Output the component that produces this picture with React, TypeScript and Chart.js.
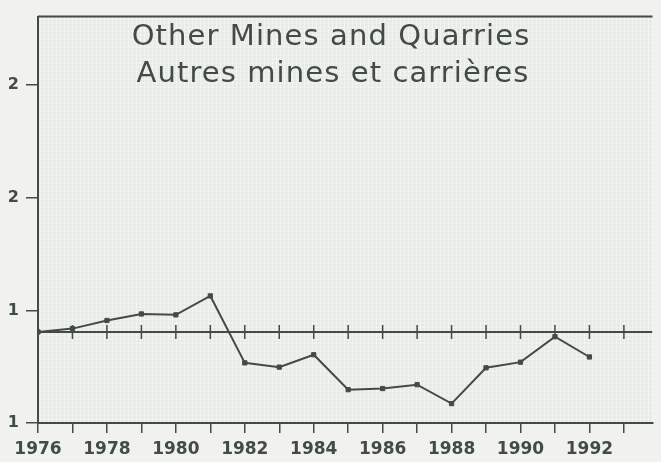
import React, { useEffect, useRef } from "react";
import { Chart, registerables } from "chart.js";

Chart.register(...registerables);

// ---- data ----
const YEARS = [1976, 1977, 1978, 1979, 1980, 1981, 1982, 1983, 1984, 1985, 1986, 1987, 1988, 1989, 1990, 1991, 1992];
const VALUES = [1.404, 1.419, 1.455, 1.484, 1.48, 1.564, 1.267, 1.248, 1.303, 1.148, 1.153, 1.17, 1.086, 1.245, 1.27, 1.383, 1.293];
const REF_LEVEL = 1.404;
const REF_TICK_YEARS = [1976, 1977, 1978, 1979, 1980, 1981, 1982, 1983, 1984, 1985, 1986, 1987, 1988, 1989, 1990, 1991, 1992, 1993];
const X_TICK_YEARS = [1976, 1977, 1978, 1979, 1980, 1981, 1982, 1983, 1984, 1985, 1986, 1987, 1988, 1989, 1990, 1991, 1992, 1993];
const X_LABEL_YEARS = [1976, 1978, 1980, 1982, 1984, 1986, 1988, 1990, 1992];
const Y_TICK_VALUES = [1.0, 1.5, 2.0, 2.5];
const Y_TICK_LABELS = ["1", "1", "2", "2"];
const X_MIN = 1976;
const X_MAX = 1993.83;
const Y_MIN = 1.0;
const Y_MAX = 2.804;
const TITLE_LINES = ["Other Mines and Quarries", "Autres mines et carrières"];

const INK = "#414c44";
const PAGE_BG = "#f1f2ef";
const PLOT_BG = "#e7eae6";

const framePlugin = {
  id: "frame",
  beforeDraw(chart: any) {
    const { ctx, chartArea } = chart;
    ctx.save();
    ctx.fillStyle = PAGE_BG;
    ctx.fillRect(0, 0, chart.width, chart.height);
    ctx.fillStyle = PLOT_BG;
    ctx.fillRect(chartArea.left, chartArea.top, chartArea.right - chartArea.left, chartArea.bottom - chartArea.top);
    // faint mesh texture
    ctx.strokeStyle = "rgba(255,255,255,0.45)";
    ctx.lineWidth = 1;
    for (let x = chartArea.left + 2; x < chartArea.right; x += 4) {
      ctx.beginPath();
      ctx.moveTo(x + 0.5, chartArea.top);
      ctx.lineTo(x + 0.5, chartArea.bottom);
      ctx.stroke();
    }
    for (let y = chartArea.top + 2; y < chartArea.bottom; y += 4) {
      ctx.beginPath();
      ctx.moveTo(chartArea.left, y + 0.5);
      ctx.lineTo(chartArea.right, y + 0.5);
      ctx.stroke();
    }
    // top frame line
    ctx.strokeStyle = INK;
    ctx.lineWidth = 2;
    ctx.beginPath();
    ctx.moveTo(chartArea.left, chartArea.top);
    ctx.lineTo(chartArea.right, chartArea.top);
    ctx.stroke();
    ctx.restore();
  },
  afterDraw(chart: any) {
    const { ctx } = chart;
    ctx.save();
    ctx.fillStyle = INK;
    ctx.font = "29px 'DejaVu Sans', sans-serif";
    ctx.textAlign = "center";
    ctx.textBaseline = "alphabetic";
    try {
      (ctx as any).letterSpacing = "1.1px";
    } catch (e) {}
    ctx.fillText(TITLE_LINES[0], 331, 45);
    ctx.fillText(TITLE_LINES[1], 333, 82);
    ctx.restore();
  },
};

export default function App() {
  const ref = useRef<HTMLCanvasElement | null>(null);

  useEffect(() => {
    if (!ref.current) return;
    const chart = new Chart(ref.current, {
      type: "scatter",
      data: {
        datasets: [
          {
            label: "ref",
            data: [...REF_TICK_YEARS.map((y) => ({ x: y, y: REF_LEVEL })), { x: X_MAX, y: REF_LEVEL }],
            showLine: true,
            borderColor: INK,
            borderWidth: 2,
            pointStyle: "line",
            rotation: 90,
            pointRadius: [...REF_TICK_YEARS.map(() => 7), 0],
            pointBorderColor: INK,
            pointBorderWidth: 1.5,
            order: 2,
          },
          {
            label: "series",
            data: YEARS.map((y, i) => ({ x: y, y: VALUES[i] })),
            showLine: true,
            borderColor: INK,
            borderWidth: 2,
            pointStyle: "rect",
            pointRadius: 3,
            pointBackgroundColor: INK,
            pointBorderColor: INK,
            pointBorderWidth: 1,
            order: 1,
          },
        ],
      },
      options: {
        responsive: true,
        maintainAspectRatio: false,
        animation: false,
        layout: { padding: { top: 8, left: 0, right: 0, bottom: 0 } },
        plugins: {
          legend: { display: false },
          tooltip: { enabled: false },
          title: { display: false },
        },
        scales: {
          x: {
            type: "linear",
            min: X_MIN,
            max: X_MAX,
            afterBuildTicks: (axis: any) => {
              axis.ticks = X_TICK_YEARS.map((v) => ({ value: v }));
            },
            afterFit: (axis: any) => {
              axis.height = 39;
            },
            ticks: {
              autoSkip: false,
              maxRotation: 0,
              padding: 6,
              color: INK,
              font: { family: "'DejaVu Sans'", size: 17, weight: "bold" },
              callback: (v: any) => (X_LABEL_YEARS.includes(Number(v)) ? String(v) : ""),
            },
            grid: { drawOnChartArea: false, drawTicks: true, tickLength: 10, color: INK, lineWidth: 1.5 },
            border: { display: true, color: INK, width: 2 },
          },
          y: {
            type: "linear",
            min: Y_MIN,
            max: Y_MAX,
            afterBuildTicks: (axis: any) => {
              axis.ticks = Y_TICK_VALUES.map((v) => ({ value: v }));
            },
            afterFit: (axis: any) => {
              axis.width = 38;
            },
            ticks: {
              padding: 7,
              color: INK,
              font: { family: "'DejaVu Sans'", size: 16, weight: "bold" },
              callback: (v: any) => {
                const i = Y_TICK_VALUES.indexOf(Number(v));
                return i >= 0 ? Y_TICK_LABELS[i] : "";
              },
            },
            grid: { drawOnChartArea: false, drawTicks: true, tickLength: 12, color: INK, lineWidth: 1.5 },
            border: { display: true, color: INK, width: 2 },
          },
        },
      },
      plugins: [framePlugin],
    } as any);
    return () => chart.destroy();
  }, []);

  return (
    <div style={{ position: "fixed", left: 0, top: 0, width: 661, height: 462, background: PAGE_BG }}>
      <canvas ref={ref} />
    </div>
  );
}
